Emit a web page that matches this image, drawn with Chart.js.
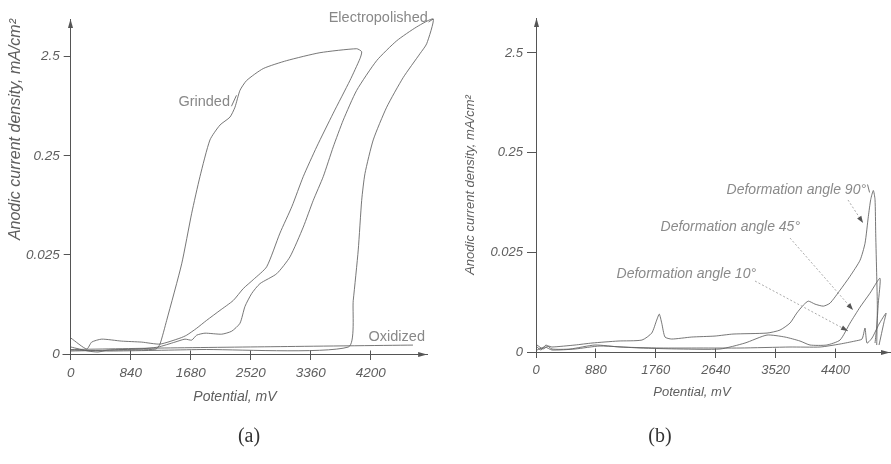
<!DOCTYPE html>
<html>
<head>
<meta charset="utf-8">
<script src="https://cdn.jsdelivr.net/npm/chart.js@4.4.0/dist/chart.umd.min.js"></script>
<style>
  html, body { margin: 0; padding: 0; background: #fff; }
  #wrap { position: relative; width: 891px; height: 464px; overflow: hidden; background: #fff; }
  #chartA { position: absolute; left: 0; top: 0; }
  #chartB { position: absolute; left: 450px; top: 0; }
  .cap { position: absolute; top: 424px; width: 60px; text-align: center;
         font-family: "Liberation Serif", "DejaVu Serif", serif; font-size: 20px; color: #333; }
</style>
</head>
<body>
<div id="wrap">
  <canvas id="chartA" width="450" height="464"></canvas>
  <canvas id="chartB" width="441" height="464"></canvas>
  <div class="cap" style="left:219px">(a)</div>
  <div class="cap" style="left:630px">(b)</div>
</div>
<script>
// ---- data ----
// y values are given in axis levels: 0 -> "0", 1 -> "0.025", 2 -> "0.25", 3 -> "2.5" mA/cm2
const levelTicks = [0, 1, 2, 3];
const levelLabels = ['0', '0.025', '0.25', '2.5'];

// panel (a)
const potTicksA = [0, 840, 1680, 2520, 3360, 4200];

const grindedMv = [4, 690, 1194, 1250, 1344, 1554, 1694, 1810, 1950, 2090, 2230, 2300, 2370, 2464, 2696,
  3024, 3490, 4004, 4074, 4050, 3910, 3676, 3444, 3256, 3098, 2930, 2744, 2556, 2416, 2276, 2090, 1904,
  1764, 1624, 1530, 1250, 994, 714, 434, 294, 224, 4];
const grindedLevel = [0.03, 0.04, 0.05, 0.10, 0.34, 0.91, 1.42, 1.79, 2.16, 2.31, 2.39, 2.49, 2.66, 2.76, 2.88,
  2.96, 3.04, 3.08, 3.05, 2.98, 2.76, 2.43, 2.09, 1.79, 1.49, 1.22, 0.88, 0.75, 0.66, 0.54, 0.44, 0.34,
  0.26, 0.19, 0.16, 0.10, 0.12, 0.13, 0.15, 0.12, 0.05, 0.16];

const electroMv = [4, 550, 1810, 3886, 3956, 4026, 4074, 4120, 4236, 4424, 4656, 4890, 4984, 5076,
  4844, 4564, 4284, 4004, 3816, 3676, 3536, 3396, 3256, 3070, 2884, 2650, 2534, 2440, 2370, 2254, 2114,
  1880, 1764, 1694, 1600, 1460, 1222, 942, 522, 382, 242, 4];
const electroLevel = [0.04, 0.03, 0.045, 0.07, 0.54, 1.05, 1.55, 1.82, 2.16, 2.49, 2.79, 3.03, 3.13, 3.38,
  3.30, 3.16, 2.96, 2.66, 2.36, 2.09, 1.79, 1.55, 1.28, 0.98, 0.81, 0.71, 0.61, 0.48, 0.31, 0.23, 0.20,
  0.21, 0.19, 0.14, 0.15, 0.12, 0.07, 0.05, 0.04, 0.02, 0.03, 0.07];

const oxidizedMv = [4, 1250, 2860, 4792];
const oxidizedLevel = [0.045, 0.06, 0.074, 0.09];

// panel (b)
const potTicksB = [0, 880, 1760, 2640, 3520, 4400];

const angle90Mv = [15, 103, 176, 235, 573, 823, 1205, 1557, 1700, 1773, 1811, 1847, 1895, 1993, 2287, 2630,
  2894, 3394, 3584, 3731, 3830, 3927, 4000, 4099, 4221, 4319, 4466, 4613, 4760, 4833, 4882, 4917, 4955,
  4980, 4990, 5005, 5014, 5005];
const angle90Level = [0.07, 0.03, 0.06, 0.05, 0.07, 0.09, 0.11, 0.12, 0.19, 0.32, 0.38, 0.29, 0.15, 0.13, 0.15, 0.16,
  0.18, 0.19, 0.22, 0.29, 0.39, 0.47, 0.51, 0.48, 0.46, 0.49, 0.62, 0.76, 0.92, 1.09, 1.36, 1.53, 1.62,
  1.53, 1.19, 0.76, 0.45, 0.07];

const angle45Mv = [15, 132, 235, 573, 940, 1528, 2115, 2703, 3070, 3393, 3658, 3878, 4025, 4270, 4466,
  4613, 4760, 4906, 5053, 5028, 5005, 4980];
const angle45Level = [0.02, 0.05, 0.02, 0.03, 0.06, 0.04, 0.03, 0.03, 0.09, 0.17, 0.15, 0.11, 0.07, 0.07, 0.12,
  0.29, 0.45, 0.59, 0.74, 0.49, 0.25, 0.09];

const angle10Mv = [15, 73, 147, 235, 499, 867, 1234, 1822, 2409, 2997, 3731, 4172, 4466, 4686, 4789,
  4833, 4862, 4936, 5039, 5142, 5112, 5039];
const angle10Level = [0.05, 0.02, 0.07, 0.03, 0.03, 0.07, 0.05, 0.04, 0.04, 0.04, 0.05, 0.05, 0.08, 0.11, 0.13,
  0.24, 0.09, 0.14, 0.28, 0.39, 0.30, 0.07];

// ---- styling ----
const sans = '"Liberation Sans", Arial, sans-serif';
const axisColor = '#555';
const textColor = '#5e5e5e';
const curveColor = 'rgba(95,95,95,0.85)';

function pts(xs, ys) {
  return xs.map((x, i) => ({ x: x, y: ys[i] }));
}

function curve(xs, ys) {
  return {
    data: pts(xs, ys),
    showLine: true,
    borderColor: curveColor,
    borderWidth: 1,
    pointRadius: 0,
    tension: 0.2,
    clip: false
  };
}

function drawHead(ctx, x, y, ux, uy, len, half) {
  const bx = x - ux * len, by = y - uy * len;
  ctx.beginPath();
  ctx.moveTo(x, y);
  ctx.lineTo(bx - uy * half, by + ux * half);
  ctx.lineTo(bx + uy * half, by - ux * half);
  ctx.closePath();
  ctx.fill();
}

const align = v => Math.round(v - 0.5) + 0.5;

// axis arrows, crossing ticks, x title, curve labels and pointer lines
const decor = {
  id: 'decor',
  afterDraw(chart, args, opts) {
    const { ctx, chartArea: a, scales: { x, y } } = chart;
    const L = align(a.left), B = align(a.bottom);
    ctx.save();
    ctx.strokeStyle = axisColor;
    ctx.fillStyle = axisColor;
    ctx.lineWidth = 1;
    ctx.beginPath();
    ctx.moveTo(L - 8, B); ctx.lineTo(L, B);
    ctx.moveTo(L, B); ctx.lineTo(L, B + 5);
    x.ticks.forEach(t => {
      const px = align(x.getPixelForValue(t.value));
      ctx.moveTo(px, B - 4); ctx.lineTo(px, B);
    });
    ctx.stroke();
    drawHead(ctx, L, a.top, 0, -1, 9, 2.5);
    drawHead(ctx, a.right, B, 1, 0, 9, 2.5);

    // x axis title sits left of the centre in the original
    ctx.font = 'italic ' + opts.xTitleSize + 'px ' + sans;
    ctx.fillStyle = textColor;
    ctx.textAlign = 'center';
    ctx.textBaseline = 'middle';
    ctx.fillText('Potential, mV', x.getPixelForValue(opts.xTitleAt), a.bottom + opts.xTitleDy);

    opts.leaders.forEach(l => {
      const x1 = x.getPixelForValue(l.from[0]), y1 = y.getPixelForValue(l.from[1]);
      const x2 = x.getPixelForValue(l.to[0]), y2 = y.getPixelForValue(l.to[1]);
      ctx.strokeStyle = l.color;
      ctx.setLineDash(l.dash || []);
      ctx.beginPath();
      ctx.moveTo(x1, y1); ctx.lineTo(x2, y2);
      ctx.stroke();
      ctx.setLineDash([]);
      if (l.head) {
        const d = Math.hypot(x2 - x1, y2 - y1);
        ctx.fillStyle = '#555';
        drawHead(ctx, x2, y2, (x2 - x1) / d, (y2 - y1) / d, 7, 2.5);
      }
    });

    opts.labels.forEach(l => {
      ctx.font = (l.italic ? 'italic ' : '') + opts.labelSize + 'px ' + sans;
      ctx.fillStyle = opts.labelColor;
      ctx.textAlign = 'right';
      ctx.textBaseline = 'middle';
      ctx.fillText(l.text, x.getPixelForValue(l.at[0]), y.getPixelForValue(l.at[1]));
    });
    ctx.restore();
  }
};

function buildOptions(p) {
  return {
    responsive: false,
    animation: false,
    layout: { padding: p.padding },
    plugins: {
      legend: { display: false },
      tooltip: { enabled: false },
      decor: p.decor
    },
    scales: {
      x: {
        type: 'linear',
        min: 0,
        max: p.xMax,
        border: { color: axisColor, width: 1 },
        grid: { drawOnChartArea: false, tickLength: 6, color: axisColor },
        afterBuildTicks: s => { s.ticks = p.xTicks.map(v => ({ value: v })); },
        ticks: {
          color: textColor, padding: 5, maxRotation: 0, autoSkip: false,
          font: { family: sans, size: p.tickSize, style: 'italic' },
          callback: v => String(v)
        },
        afterFit: s => { s.height = p.xHeight; }
      },
      y: {
        type: 'linear',
        min: 0,
        max: p.yMax,
        border: { color: axisColor, width: 1 },
        grid: { drawOnChartArea: false, tickLength: p.yTickLen, color: axisColor },
        afterBuildTicks: s => { s.ticks = levelTicks.map(v => ({ value: v })); },
        ticks: {
          color: textColor, padding: 4,
          font: { family: sans, size: p.tickSize, style: 'italic' },
          callback: v => levelLabels[levelTicks.indexOf(v)]
        },
        title: {
          display: true, text: 'Anodic current density, mA/cm²', color: textColor, align: p.yTitleAlign,
          font: { family: sans, size: p.yTitleSize, style: 'italic' },
          padding: { top: p.yTitlePad, bottom: 0 }
        },
        afterFit: s => { s.width = p.yWidth; }
      }
    }
  };
}

new Chart(document.getElementById('chartA'), {
  type: 'scatter',
  data: {
    datasets: [
      curve(grindedMv, grindedLevel),
      curve(electroMv, electroLevel),
      curve(oxidizedMv, oxidizedLevel)
    ]
  },
  options: buildOptions({
    padding: { left: 0, top: 19, right: 22.9, bottom: 59 },
    xMax: 4990, yMax: 3.38, xTicks: potTicksA,
    xHeight: 51, yWidth: 70.7, yTickLen: 7, tickSize: 13.5,
    yTitleSize: 16, yTitleAlign: 'end', yTitlePad: 6,
    decor: {
      xTitleSize: 14, xTitleAt: 2300, xTitleDy: 43,
      labelSize: 14.5,
      labelColor: '#888',
      labels: [
        { text: 'Grinded', at: [2230, 2.54] },
        { text: 'Electropolished', at: [5000, 3.39] },
        { text: 'Oxidized', at: [4960, 0.17] }
      ],
      leaders: [
        { from: [2251, 2.50], to: [2321, 2.61], color: curveColor },
        { from: [5010, 3.35], to: [5076, 3.38], color: curveColor }
      ]
    }
  }),
  plugins: [decor]
});

new Chart(document.getElementById('chartB'), {
  type: 'scatter',
  data: {
    datasets: [
      curve(angle90Mv, angle90Level),
      curve(angle45Mv, angle45Level),
      curve(angle10Mv, angle10Level)
    ]
  },
  options: buildOptions({
    padding: { left: 0, top: 18, right: 1, bottom: 64 },
    xMax: 5200, yMax: 3.35, xTicks: potTicksB,
    xHeight: 48, yWidth: 86, yTickLen: 9, tickSize: 13,
    yTitleSize: 13, yTitleAlign: 'center', yTitlePad: 13,
    decor: {
      xTitleSize: 13, xTitleAt: 2290, xTitleDy: 40,
      labelSize: 14,
      labelColor: '#8a8a8a',
      labels: [
        { text: 'Deformation angle 90°', at: [4848, 1.625], italic: true },
        { text: 'Deformation angle 45°', at: [3878, 1.254], italic: true },
        { text: 'Deformation angle 10°', at: [3232, 0.782], italic: true }
      ],
      leaders: [
        { from: [4583, 1.525], to: [4804, 1.294], color: '#aaa', dash: [2, 2], head: true },
        { from: [3731, 1.143], to: [4657, 0.421], color: '#aaa', dash: [2, 2], head: true },
        { from: [3217, 0.712], to: [4583, 0.211], color: '#aaa', dash: [2, 2], head: true },
        { from: [4870, 1.68], to: [4900, 1.60], color: curveColor }
      ]
    }
  }),
  plugins: [decor]
});
</script>
</body>
</html>
